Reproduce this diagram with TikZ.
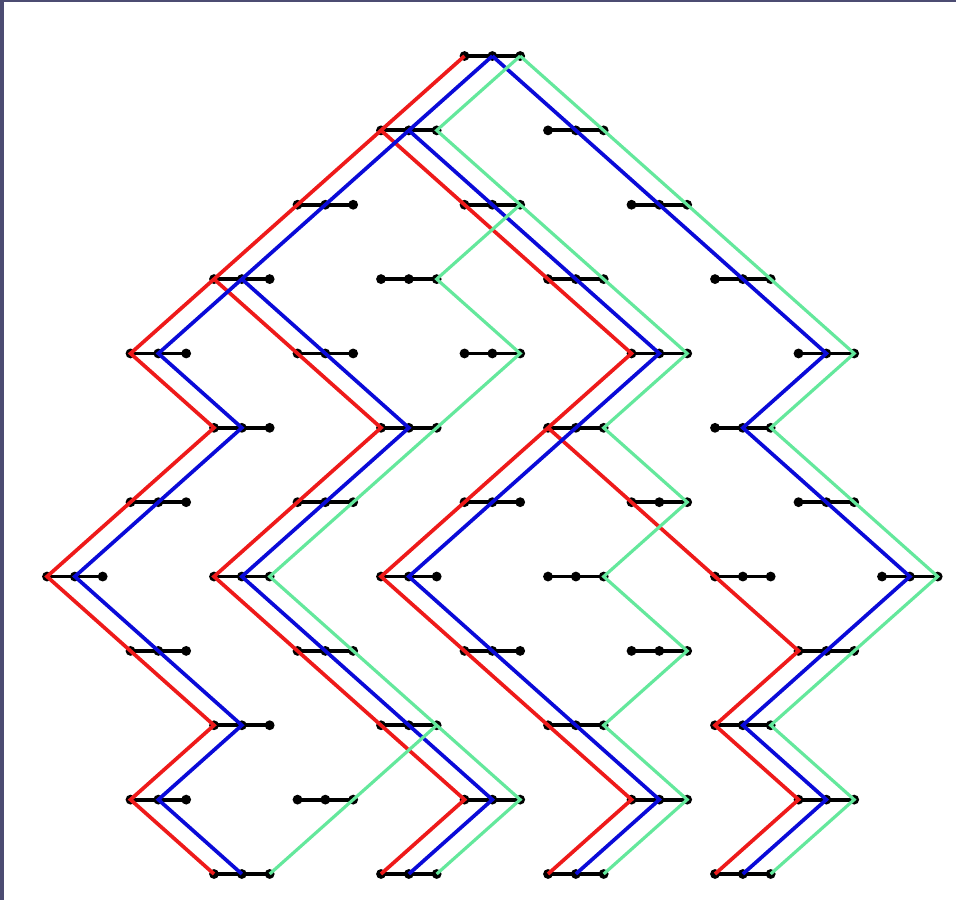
\documentclass[tikz,border=0pt]{standalone}
\usepackage{tikz}
\usepackage{xcolor}
\definecolor{pathred}{HTML}{EE1A1A}
\definecolor{pathblue}{HTML}{0A0AD8}
\definecolor{pathgreen}{HTML}{64E89C}
\definecolor{slide}{HTML}{4C4C72}
\tikzset{
  dot/.style={circle, fill=black, inner sep=0pt, minimum size=2.8pt},
  bar/.style={draw=black, line width=1.1pt},
  redpath/.style={draw=pathred, line width=1.05pt},
  bluepath/.style={draw=pathblue, line width=1.05pt},
  greenpath/.style={draw=pathgreen, line width=0.9pt}
}
\begin{document}
\begin{tikzpicture}[x=0.835cm, y=-0.7436cm]
  \useasboundingbox (-0.5629,-0.7531) rectangle (10.886,11.350);
  \fill[white] (-0.5629,-0.7531) rectangle (10.886,11.350);
  \fill[slide] (-0.5629,-0.7531) rectangle (-0.510,11.350);
  \fill[slide] (-0.5629,-0.7531) rectangle (10.886,-0.726);
  % dimers: left, middle and right site of each one
  \foreach \j/\cols in {0/{5},1/{4,6},2/{3,5,7},3/{2,4,6,8},4/{1,3,5,7,9},5/{2,4,6,8},
      6/{1,3,5,7,9},7/{0,2,4,6,8,10},8/{1,3,5,7,9},9/{2,4,6,8},10/{1,3,5,7,9},11/{2,4,6,8}} {
    \foreach \i in \cols {
      \node[dot] (L-\i-\j) at (\i,\j) {};
      \node[dot] (M-\i-\j) at ({\i+1/3},\j) {};
      \node[dot] (R-\i-\j) at ({\i+2/3},\j) {};
      \draw[bar] (L-\i-\j.center) -- (R-\i-\j.center);
    }
  }
  % red paths through the left sites
  \draw[redpath] (L-5-0.center) \foreach \p in {4-1,3-2,2-3,1-4,2-5,1-6,0-7,1-8,2-9,1-10,2-11} {-- (L-\p.center)};
  \draw[redpath] (L-4-1.center) \foreach \p in {5-2,6-3,7-4,6-5,5-6,4-7,5-8,6-9,7-10,6-11} {-- (L-\p.center)};
  \draw[redpath] (L-2-3.center) \foreach \p in {3-4,4-5,3-6,2-7,3-8,4-9,5-10,4-11} {-- (L-\p.center)};
  \draw[redpath] (L-6-5.center) \foreach \p in {7-6,8-7,9-8,8-9,9-10,8-11} {-- (L-\p.center)};
  % blue paths through the middle sites
  \draw[bluepath] (M-5-0.center) \foreach \p in {4-1,3-2,2-3,1-4,2-5,1-6,0-7,1-8,2-9,1-10,2-11} {-- (M-\p.center)};
  \draw[bluepath] (M-4-1.center) \foreach \p in {5-2,6-3,7-4,6-5,5-6,4-7,5-8,6-9,7-10,6-11} {-- (M-\p.center)};
  \draw[bluepath] (M-2-3.center) \foreach \p in {3-4,4-5,3-6,2-7,3-8,4-9,5-10,4-11} {-- (M-\p.center)};
  \draw[bluepath] (M-5-0.center) \foreach \p in {6-1,7-2,8-3,9-4,8-5,9-6,10-7,9-8,8-9,9-10,8-11} {-- (M-\p.center)};
  % green paths through the right sites
  \draw[greenpath] (R-5-0.center) \foreach \p in {4-1,5-2,6-3,7-4,6-5,7-6,6-7,7-8,6-9,7-10,6-11} {-- (R-\p.center)};
  \draw[greenpath] (R-5-2.center) \foreach \p in {4-3,5-4,4-5,3-6,2-7,3-8,4-9,5-10,4-11} {-- (R-\p.center)};
  \draw[greenpath] (R-4-9.center) \foreach \p in {3-10,2-11} {-- (R-\p.center)};
  \draw[greenpath] (R-5-0.center) \foreach \p in {6-1,7-2,8-3,9-4,8-5,9-6,10-7,9-8,8-9,9-10,8-11} {-- (R-\p.center)};
\end{tikzpicture}
\end{document}
